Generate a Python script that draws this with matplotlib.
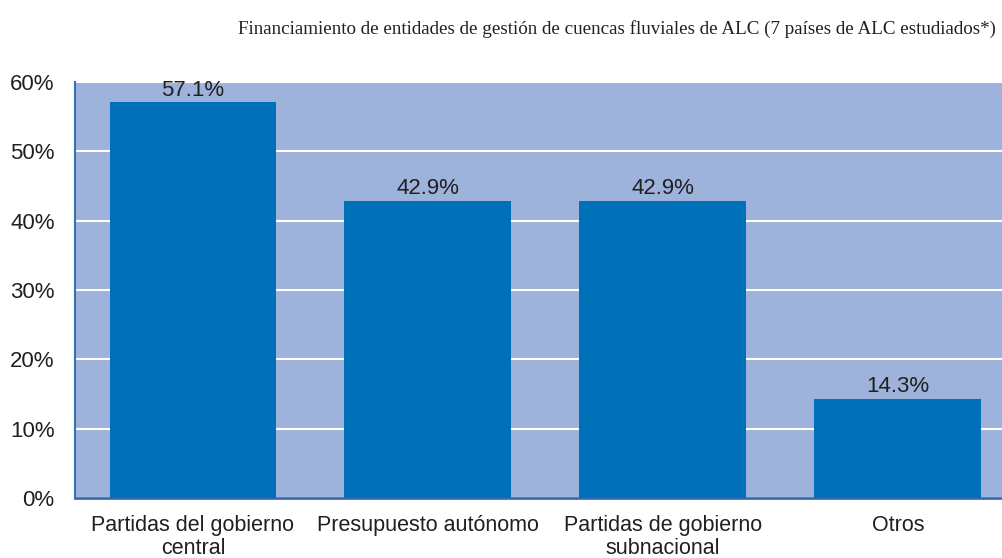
# Bar chart: financing of river basin management entities in LAC
import matplotlib.pyplot as plt

categories = ["Partidas del gobierno\ncentral", "Presupuesto autónomo",
              "Partidas de gobierno\nsubnacional", "Otros"]
values = [57.1, 42.9, 42.9, 14.3]
value_labels = ["57.1%", "42.9%", "42.9%", "14.3%"]
yticks = [0, 10, 20, 30, 40, 50, 60]
ytick_labels = ["0%", "10%", "20%", "30%", "40%", "50%", "60%"]

plt.rcParams['font.family'] = ['Liberation Sans', 'DejaVu Sans']
text_color = "#231f20"

fig = plt.figure(figsize=(10.02, 5.58), dpi=100)
ax = fig.add_axes([0.0753, 0.1075, 0.938, 0.7455])
ax.set_facecolor("#9db3dc")

x = range(len(categories))
bars = ax.bar(x, values, width=0.71, color="#0070b8", zorder=3)

# Value labels above each bar
for bar, lab in zip(bars, value_labels):
    ax.annotate(lab, (bar.get_x() + bar.get_width() / 2, bar.get_height()),
                xytext=(0, 1), textcoords="offset points",
                ha="center", va="bottom", fontsize=16, color=text_color)

ax.set_xlim(-0.5, 3.5)
ax.set_ylim(0, 60)
ax.set_yticks(yticks)
ax.set_yticklabels(ytick_labels, fontsize=16, color=text_color)
ax.set_xticks(list(x))
ax.set_xticklabels(categories, fontsize=15.5, color=text_color, linespacing=1.15)
ax.tick_params(axis="both", length=0)
ax.tick_params(axis="y", pad=15)
ax.tick_params(axis="x", pad=12)
ax.grid(axis="y", color="white", linewidth=1.5, zorder=1)

for side in ["top", "right"]:
    ax.spines[side].set_visible(False)
ax.spines["left"].set_color("#3a6fb5")
ax.spines["left"].set_linewidth(1.5)
ax.spines["bottom"].set_color("#3a6fb5")
ax.spines["bottom"].set_linewidth(2)

fig.text(0.616, 0.948, "Financiamiento de entidades de gestión de cuencas fluviales de ALC "
         "(7 países de ALC estudiados*)", ha="center", va="center", fontsize=13.7,
         family=["Liberation Serif", "DejaVu Serif"], color=text_color)

fig.savefig("out.png", dpi=100)
